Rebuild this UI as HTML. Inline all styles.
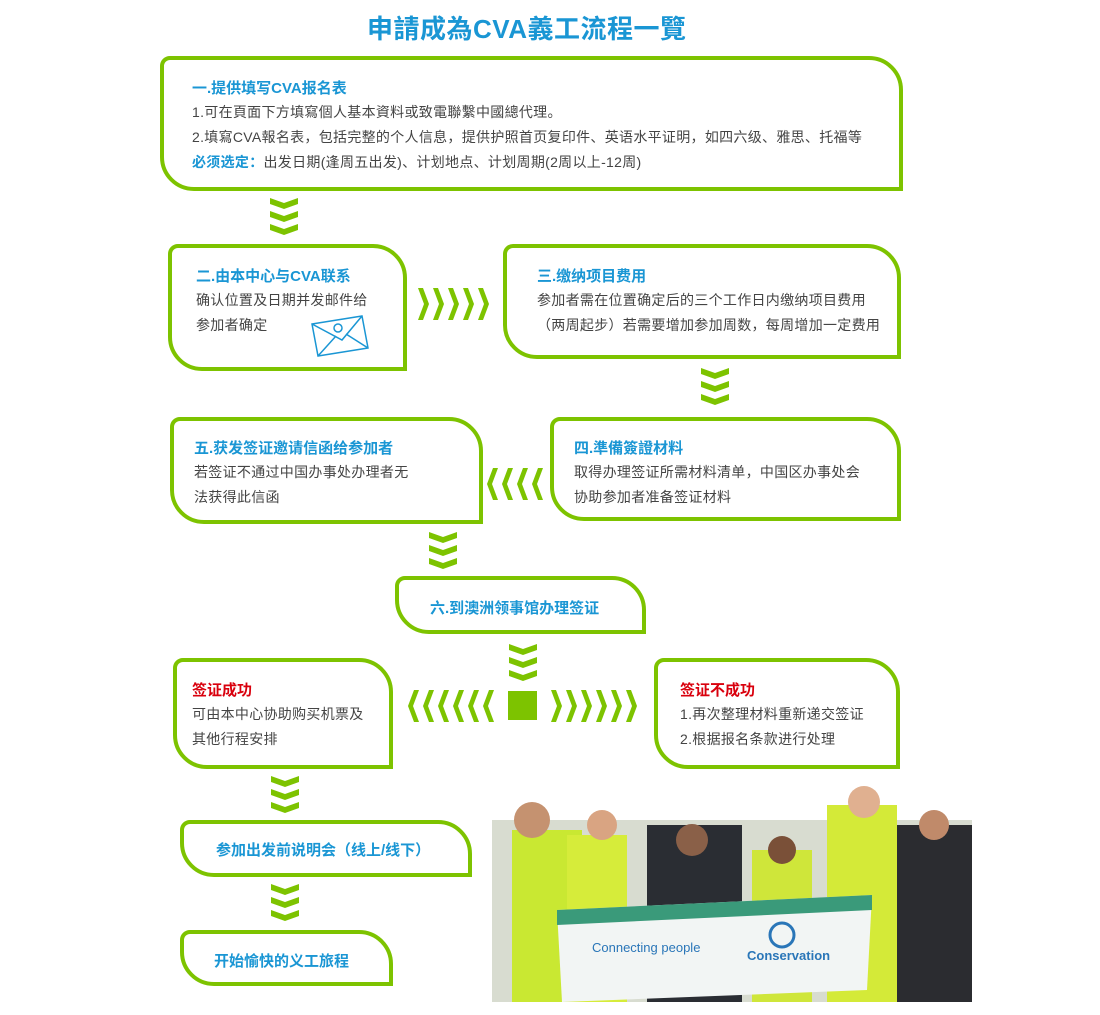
<!DOCTYPE html>
<html><head><meta charset="utf-8"><style>
body{margin:0;width:1100px;height:1015px;background:#fff;position:relative;overflow:hidden;font-family:"Liberation Sans","Noto Sans CJK SC",sans-serif;}
.b{position:absolute;border:4px solid #7dc300;border-radius:10px 34px 0 34px;box-sizing:border-box;}
.h{position:absolute;color:#1a96d4;font-weight:bold;font-size:15px;white-space:nowrap}
.t{position:absolute;color:#444;font-size:14px;letter-spacing:0.3px;line-height:25px;white-space:nowrap}
.r{color:#d9000d}
svg{position:absolute;overflow:visible}
</style></head><body>
<div class="h" style="left:367px;top:9px;font-size:26px;letter-spacing:0.5px">申請成為CVA義工流程一覽</div>

<div class="b" style="left:160px;top:56px;width:743px;height:135px"></div>
<div class="h" style="left:192px;top:77px">一.提供填写CVA报名表</div>
<div class="t" style="left:192px;top:100px">1.可在頁面下方填寫個人基本資料或致電聯繫中國總代理。<br>2.填寫CVA報名表，包括完整的个人信息，提供护照首页复印件、英语水平证明，如四六级、雅思、托福等<br><b style="color:#1a96d4">必须选定：</b>出发日期(逢周五出发)、计划地点、计划周期(2周以上-12周)</div>

<div class="b" style="left:168px;top:244px;width:239px;height:127px"></div>
<div class="h" style="left:196px;top:265px">二.由本中心与CVA联系</div>
<div class="t" style="left:196px;top:288px">确认位置及日期并发邮件给<br>参加者确定</div>
<svg style="left:310px;top:314px" width="60" height="44"><g fill="none" stroke="#1a96d4" stroke-width="1.5"><polygon points="2,10 52,2 58,34 8,42"/><polyline points="2,10 32,26 52,2"/><line x1="8" y1="42" x2="26" y2="22"/><line x1="58" y1="34" x2="36" y2="20"/><circle cx="28" cy="14" r="4"/></g></svg>

<div class="b" style="left:503px;top:244px;width:398px;height:115px"></div>
<div class="h" style="left:537px;top:265px">三.缴纳项目费用</div>
<div class="t" style="left:537px;top:288px">参加者需在位置确定后的三个工作日内缴纳项目费用<br>（两周起步）若需要增加参加周数，每周增加一定费用</div>

<div class="b" style="left:550px;top:417px;width:351px;height:104px"></div>
<div class="h" style="left:574px;top:437px">四.準備簽證材料</div>
<div class="t" style="left:574px;top:460px">取得办理签证所需材料清单，中国区办事处会<br>协助参加者准备签证材料</div>

<div class="b" style="left:170px;top:417px;width:313px;height:107px"></div>
<div class="h" style="left:194px;top:437px">五.获发签证邀请信函给参加者</div>
<div class="t" style="left:194px;top:460px">若签证不通过中国办事处办理者无<br>法获得此信函</div>

<div class="b" style="left:395px;top:576px;width:251px;height:58px"></div>
<div class="h" style="left:430px;top:597px">六.到澳洲领事馆办理签证</div>

<div class="b" style="left:173px;top:658px;width:220px;height:111px"></div>
<div class="h r" style="left:192px;top:679px">签证成功</div>
<div class="t" style="left:192px;top:702px">可由本中心协助购买机票及<br>其他行程安排</div>

<div class="b" style="left:654px;top:658px;width:246px;height:111px"></div>
<div class="h r" style="left:680px;top:679px">签证不成功</div>
<div class="t" style="left:680px;top:702px">1.再次整理材料重新递交签证<br>2.根据报名条款进行处理</div>

<div class="b" style="left:180px;top:820px;width:292px;height:57px"></div>
<div class="h" style="left:216px;top:839px">参加出发前说明会（线上/线下）</div>
<div class="b" style="left:180px;top:930px;width:213px;height:56px"></div>
<div class="h" style="left:214px;top:950px">开始愉快的义工旅程</div>

<svg width="1100" height="1015" style="left:0;top:0">
<defs>
<polygon id="d" points="0,0 14,5 28,0 28,6 14,11 0,6" fill="#7dc300"/>
<polygon id="rt" points="0,0 5,0 11,16 5,32 0,32 6,16" fill="#7dc300"/>
<polygon id="lt" points="11,0 6,0 0,16 6,32 11,32 5,16" fill="#7dc300"/>
</defs>
<g transform="translate(270,198)"><use href="#d"/><use href="#d" y="13"/><use href="#d" y="26"/></g>
<g transform="translate(701,368)"><use href="#d"/><use href="#d" y="13"/><use href="#d" y="26"/></g>
<g transform="translate(429,532)"><use href="#d"/><use href="#d" y="13"/><use href="#d" y="26"/></g>
<g transform="translate(509,644)"><use href="#d"/><use href="#d" y="13"/><use href="#d" y="26"/></g>
<g transform="translate(271,776)"><use href="#d"/><use href="#d" y="13"/><use href="#d" y="26"/></g>
<g transform="translate(271,884)"><use href="#d"/><use href="#d" y="13"/><use href="#d" y="26"/></g>
<g transform="translate(418,288)"><use href="#rt"/><use href="#rt" x="15"/><use href="#rt" x="30"/><use href="#rt" x="45"/><use href="#rt" x="60"/></g>
<g transform="translate(487,468)"><use href="#lt"/><use href="#lt" x="15"/><use href="#lt" x="30"/><use href="#lt" x="45"/></g>
<g transform="translate(408,690)"><use href="#lt"/><use href="#lt" x="15"/><use href="#lt" x="30"/><use href="#lt" x="45"/><use href="#lt" x="60"/><use href="#lt" x="75"/></g>
<g transform="translate(551,690)"><use href="#rt"/><use href="#rt" x="15"/><use href="#rt" x="30"/><use href="#rt" x="45"/><use href="#rt" x="60"/><use href="#rt" x="75"/></g>
<rect x="508" y="691" width="29" height="29" fill="#7dc300"/>
</svg>

<svg style="left:482px;top:780px" width="500" height="222">
<rect x="10" y="40" width="480" height="182" fill="#d8dcd0"/>
<rect x="30" y="50" width="70" height="172" fill="#c9e832"/>
<rect x="85" y="55" width="60" height="167" fill="#d6ec3a"/>
<rect x="165" y="45" width="95" height="177" fill="#2a2d33"/>
<rect x="270" y="70" width="60" height="152" fill="#cfe63a"/>
<rect x="345" y="25" width="70" height="197" fill="#d4ea38"/>
<rect x="415" y="45" width="75" height="177" fill="#2b2c30"/>
<circle cx="50" cy="40" r="18" fill="#c59270"/><circle cx="120" cy="45" r="15" fill="#d9a482"/>
<circle cx="210" cy="60" r="16" fill="#8a6048"/><circle cx="300" cy="70" r="14" fill="#7a5038"/>
<circle cx="382" cy="22" r="16" fill="#e0b090"/><circle cx="452" cy="45" r="15" fill="#c08a6a"/>
<polygon points="75,130 390,115 385,210 80,222" fill="#f2f5f4"/>
<polygon points="75,130 390,115 390,130 75,145" fill="#3a9a7a"/>
<text x="110" y="172" fill="#2a76b8" font-size="13" font-family="Liberation Sans">Connecting people</text>
<text x="265" y="180" fill="#2a76b8" font-size="13" font-weight="bold" font-family="Liberation Sans">Conservation</text>
<circle cx="300" cy="155" r="12" fill="none" stroke="#2a76b8" stroke-width="3"/>
</svg>
</body></html>
